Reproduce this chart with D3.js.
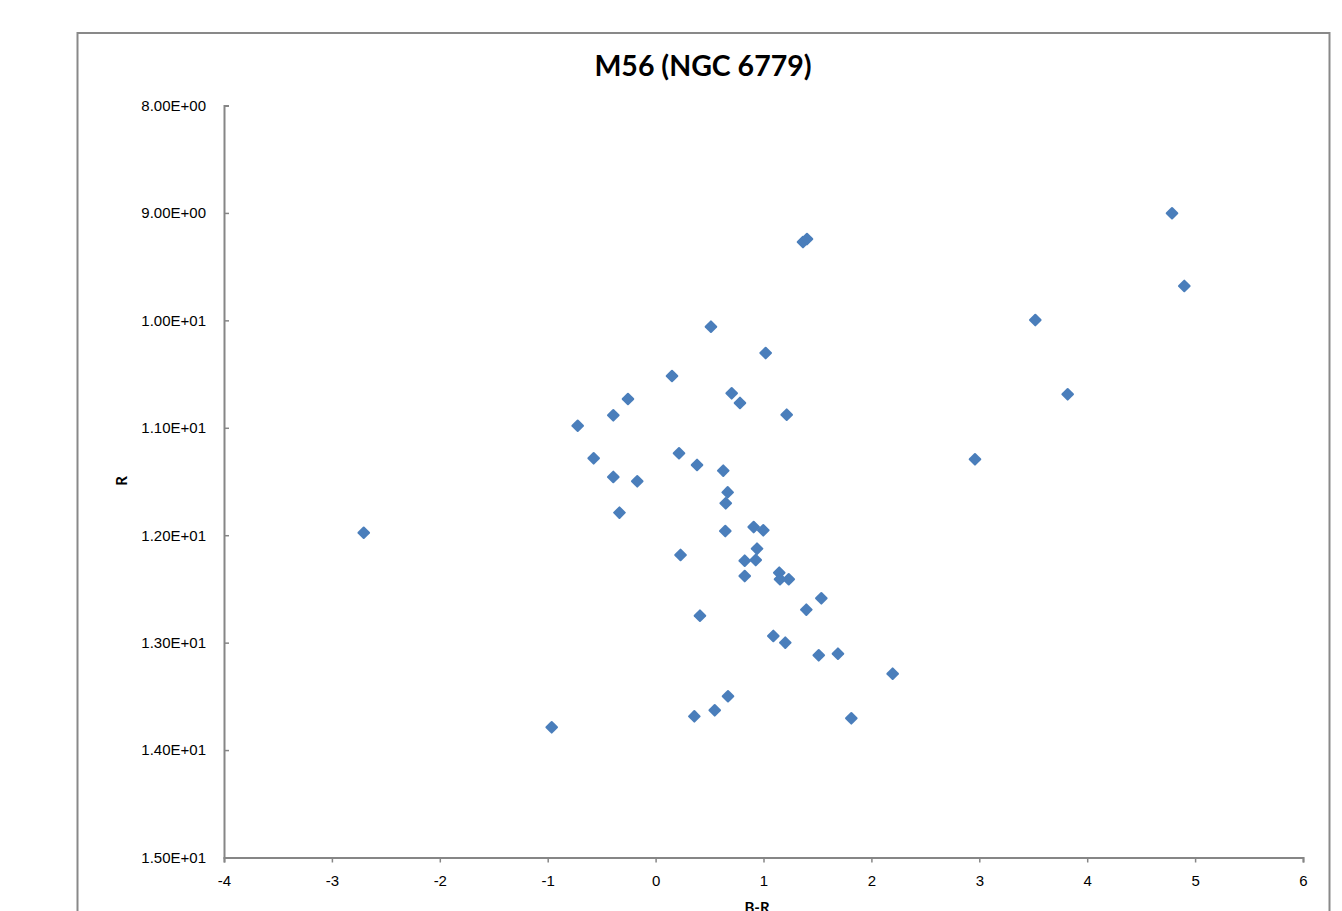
<!DOCTYPE html>
<html lang="en">
  <head>
    <meta charset="utf-8">
    <title>M56 (NGC 6779)</title>
    <style media="screen">
      body { margin: 0; background: #fff; }
      svg { display: block; }
    </style>
  </head>
  <body>
    <div id="graph-div"></div>

    <script src="https://d3js.org/d3.v7.min.js"></script>
    <script type="text/javascript">

    // B-R colour index and R magnitude
    var bMinusR = [4.786, 1.366, 1.403, 4.900, 0.513, 3.519, 1.020, 0.152, 0.705, 0.782,
                   -0.256, -0.392, 1.215, 3.819, -0.722, 0.217, 0.384, -0.574, 0.627, 2.960,
                   -0.392, -0.170, 0.668, 0.650, -0.335, -2.705, 0.909, 0.998, 0.646, 0.940,
                   0.231, 0.826, 0.928, 0.826, 1.146, 1.153, 1.234, 1.536, 1.397, 0.411,
                   1.091, 1.202, 1.512, 1.690, 2.197, 0.671, 0.548, 0.359, 1.814, -0.963];
    var rMag = [9.003, 9.271, 9.243, 9.680, 10.059, 9.997, 10.304, 10.518, 10.679, 10.769,
                10.732, 10.884, 10.878, 10.688, 10.981, 11.237, 11.346, 11.284, 11.399, 11.293,
                11.458, 11.498, 11.601, 11.703, 11.790, 11.977, 11.924, 11.954, 11.961, 12.125,
                12.184, 12.237, 12.231, 12.380, 12.349, 12.410, 12.410, 12.587, 12.693, 12.749,
                12.938, 13.000, 13.118, 13.103, 13.289, 13.499, 13.630, 13.686, 13.704, 13.788];
    var xTicks = [-4, -3, -2, -1, 0, 1, 2, 3, 4, 5, 6];
    var yTicks = [8, 9, 10, 11, 12, 13, 14, 15];

    var W = 1342, H = 911;
    var margin = {top: 105.5, right: 39, bottom: 53.5, left: 224};
    var width = W - margin.left - margin.right,
        height = H - margin.top - margin.bottom;

    var points = bMinusR.map(function(d, i) { return {x: d, y: rMag[i]}; });

    var svg = d3.select("#graph-div")
      .append("svg")
        .attr("width", W)
        .attr("height", H);

    // chart frame
    svg.append("rect")
      .attr("x", 77.5).attr("y", 33)
      .attr("width", 1252).attr("height", 900)
      .attr("fill", "#fff")
      .attr("stroke", "#898989")
      .attr("stroke-width", 2);

    svg.append("text")
      .attr("x", 703).attr("y", 75.5)
      .attr("text-anchor", "middle")
      .style("font-family", "Lato, 'Open Sans', sans-serif")
      .style("font-weight", "bold")
      .style("font-size", "28.5px")
      .text("M56 (NGC 6779)");

    var g = svg.append("g")
      .attr("transform", "translate(" + margin.left + "," + margin.top + ")");

    var x = d3.scaleLinear().domain([-4, 6]).range([0, width]);
    var y = d3.scaleLinear().domain([8, 15]).range([0, height]);

    var axisColor = "#868686";
    var tickFont = "'Liberation Sans', Arial, sans-serif";

    var xAxis = g.append("g")
      .attr("transform", "translate(0," + height + ")")
      .call(d3.axisBottom(x).tickValues(xTicks).tickSize(5).tickPadding(12.5)
        .tickFormat(function(d) { return String(d); }));

    var yAxis = g.append("g")
      .call(d3.axisLeft(y).tickValues(yTicks).tickSize(-5).tickPadding(18)
        .tickFormat(function(d) { return d.toExponential(2).toUpperCase().replace(/E\+(\d)$/, "E+0$1"); }));

    [xAxis, yAxis].forEach(function(a) {
      a.select(".domain").attr("stroke", axisColor).attr("stroke-width", 2);
      a.selectAll(".tick line").attr("stroke", axisColor).attr("stroke-width", 1.5);
      a.selectAll(".tick text")
        .attr("fill", "#000")
        .style("font-family", tickFont)
        .style("font-size", "15px");
    });

    svg.append("text")
      .attr("transform", "translate(127,481) rotate(-90)")
      .attr("text-anchor", "middle")
      .style("font-family", "Lato, 'Open Sans', sans-serif")
      .style("font-weight", "bold")
      .style("font-size", "15px")
      .text("R");

    svg.append("text")
      .attr("x", 757).attr("y", 913)
      .attr("text-anchor", "middle")
      .style("font-family", "Lato, 'Open Sans', sans-serif")
      .style("font-weight", "bold")
      .style("font-size", "15px")
      .text("B-R");

    var s = 9.5;
    g.selectAll("rect.pt")
      .data(points)
      .enter()
      .append("rect")
        .attr("class", "pt")
        .attr("x", -s / 2).attr("y", -s / 2)
        .attr("width", s).attr("height", s)
        .attr("rx", 1)
        .attr("transform", function(d) { return "translate(" + x(d.x) + "," + y(d.y) + ") rotate(45)"; })
        .style("fill", "#4a7ebb");

    </script>
  </body>
</html>
